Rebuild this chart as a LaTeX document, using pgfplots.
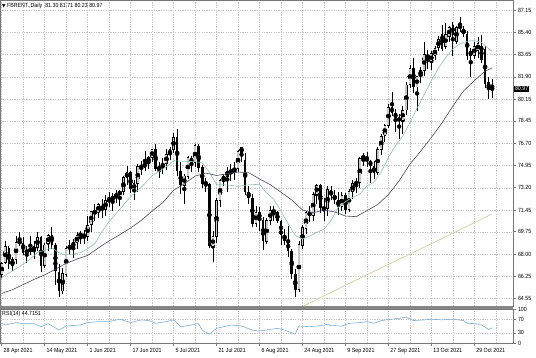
\documentclass[border=0pt]{standalone}
\usepackage{pgfplots}
\pgfplotsset{compat=1.18}
\usepackage{pgfplotstable}
\usepackage{fontspec}
\setmainfont{Liberation Sans}[FakeStretch=0.88]
\newfontfamily\symfont{DejaVu Sans}
\definecolor{fastma}{RGB}{140,192,180}
\definecolor{slowma}{RGB}{70,70,92}
\definecolor{longma}{RGB}{208,198,150}
\definecolor{rsic}{RGB}{125,172,215}
\definecolor{bullc}{RGB}{200,200,200}
\definecolor{gridc}{RGB}{195,195,195}
\definecolor{axc}{RGB}{120,120,120}

\pgfplotstableread{
i O H L C
0 66.40 67.40 66.10 67.27
1 67.30 69.00 67.20 68.56
3 67.10 67.80 66.70 67.56
4 67.60 69.40 67.20 68.88
5 68.90 69.70 68.60 68.96
7 68.10 68.60 67.30 68.28
8 68.30 69.40 67.90 68.32
9 68.30 69.00 67.60 68.55
10 68.50 69.70 68.20 69.32
12 67.10 68.90 66.90 68.71
13 68.80 69.60 68.20 69.46
17 65.10 66.90 64.90 66.44
18 66.40 68.60 66.20 68.46
19 68.40 69.10 67.90 68.65
20 68.60 69.20 67.70 68.87
21 68.90 69.70 68.40 69.46
22 69.40 69.80 68.80 69.63
24 69.40 71.00 69.00 70.25
25 70.30 71.40 69.70 71.35
26 71.30 71.90 70.60 71.31
27 71.30 72.00 70.80 71.89
29 71.50 72.60 71.00 72.22
30 72.20 72.90 71.70 72.22
31 72.20 72.80 71.40 72.52
32 72.50 73.00 72.00 72.69
33 72.70 73.00 71.80 72.86
34 72.90 74.10 72.60 73.99
35 74.00 74.90 73.40 74.39
37 73.10 73.80 72.20 73.51
38 73.50 75.10 72.90 74.90
40 74.80 76.10 74.50 75.19
41 75.20 75.70 74.70 75.56
42 75.60 76.20 75.20 76.18
44 74.70 75.20 74.00 74.76
45 74.80 75.50 74.30 75.13
46 75.10 76.20 74.60 75.84
47 75.80 76.40 75.40 76.17
48 76.20 77.50 75.90 77.16
51 73.40 74.30 71.90 74.12
52 74.10 75.70 73.90 75.55
54 75.20 76.60 74.80 76.49
57 73.50 74.00 72.90 73.59
59 68.60 69.80 67.40 69.35
60 69.40 72.40 68.90 72.23
61 72.20 73.90 71.70 73.79
62 73.80 74.30 73.30 74.10
63 74.10 74.80 72.90 74.50
65 74.50 75.20 73.80 74.74
66 74.70 76.20 74.40 76.05
67 76.00 76.40 75.20 76.33
71 70.40 71.80 70.10 71.29
74 69.00 70.80 68.80 70.63
75 70.60 71.80 70.30 71.44
83 65.20 69.00 65.00 68.75
84 68.70 70.30 68.40 70.05
85 70.00 71.40 69.60 71.25
87 71.00 72.90 70.60 72.70
88 72.70 73.50 71.90 73.41
91 71.60 73.30 71.00 73.03
95 71.70 72.90 71.40 72.60
97 71.50 73.10 71.30 72.92
98 72.90 73.80 72.30 73.51
99 73.50 74.00 72.80 73.60
100 73.60 75.60 73.20 75.46
101 75.50 75.90 74.90 75.67
105 74.40 76.40 74.20 76.19
106 76.20 77.40 75.80 77.25
107 77.30 78.20 76.80 78.09
108 78.10 79.80 77.90 79.53
112 78.50 79.60 77.40 79.28
113 79.30 81.50 78.90 81.26
114 81.30 82.80 81.00 82.56
116 81.10 82.00 79.20 81.95
117 82.00 82.70 81.40 82.39
118 82.40 84.60 82.00 83.65
120 83.10 83.90 82.40 83.70
121 83.60 84.30 83.20 84.10
122 84.20 85.10 83.90 84.80
124 84.30 86.10 84.10 85.20
125 85.05 85.90 84.60 85.80
127 84.70 85.90 84.50 85.80
128 85.70 86.60 85.40 85.97
129 85.30 85.90 85.00 85.60
131 83.60 84.20 81.90 83.90
132 83.60 84.60 83.30 84.30
133 84.00 85.00 83.40 84.50
}\bull

\pgfplotstableread{
i O H L C
2 68.50 68.60 66.80 67.25
6 68.90 69.30 67.90 68.09
11 69.30 69.40 66.60 67.05
14 69.50 70.10 68.40 68.71
15 68.70 68.90 65.60 66.66
16 66.60 67.20 64.60 65.11
23 69.60 69.90 68.80 69.30
28 71.80 72.30 70.80 71.49
36 74.40 74.50 72.80 73.08
39 74.90 75.30 74.20 74.81
43 76.20 76.60 74.50 74.68
49 77.20 77.80 74.10 74.53
50 74.50 75.20 72.70 73.43
53 75.50 75.70 74.40 75.16
55 76.50 76.60 74.40 74.76
56 74.80 75.00 73.20 73.47
58 73.50 73.60 68.50 68.62
64 74.50 75.10 73.70 74.48
68 75.40 75.90 72.60 72.89
69 72.90 73.30 71.90 72.41
70 72.40 72.70 70.10 70.38
72 71.30 71.70 69.80 70.70
73 70.70 70.90 68.30 69.04
76 71.40 71.80 70.60 71.31
77 71.30 71.40 70.40 70.59
78 70.60 70.70 68.70 69.51
79 69.50 70.00 68.70 69.03
80 69.00 70.20 67.80 68.23
81 68.20 68.40 66.00 66.45
82 66.40 66.80 64.60 65.18
86 71.20 71.80 70.50 71.07
89 73.40 73.50 71.20 71.63
90 71.60 72.40 70.60 71.59
92 73.00 73.30 72.20 72.61
93 72.60 73.00 71.90 72.22
94 72.20 72.90 71.10 71.69
96 72.60 72.80 71.10 71.45
102 75.70 76.00 74.80 75.34
103 75.30 75.40 73.60 74.92
104 74.90 75.30 73.90 74.36
109 79.50 80.70 78.80 79.09
110 79.10 79.40 77.60 78.64
111 78.60 79.00 77.00 78.52
115 82.60 83.40 80.60 81.08
119 83.60 84.00 82.50 83.42
123 85.30 86.00 83.90 84.10
126 86.00 86.20 83.50 85.20
130 85.30 85.50 83.20 83.50
134 84.30 85.20 83.00 83.20
135 84.10 84.30 81.00 81.30
136 81.50 81.90 80.20 80.90
137 81.30 81.71 80.23 80.97
}\bear

\pgfplotsset{
  wick/.style={only marks, mark=none, forget plot,
    error bars/.cd, y dir=both, y explicit, error mark=none,
    error bar style={draw=black, line width=0.7pt}},
  body/.style 2 args={only marks, mark=none, forget plot,
    error bars/.cd, y dir=both, y explicit, error mark=none,
    error bar style={draw=#1, line width=#2}},
}
\tikzset{tl/.style={font=\fontsize{6}{6}\selectfont}}

\begin{document}
\begin{tikzpicture}
\path[use as bounding box] (0,0) rectangle (536pt,357pt);
\begin{axis}[
  at={(0pt,51pt)}, anchor=south west, scale only axis,
  width=513pt, height=306pt,
  xmin=-0.47, xmax=142.8, ymin=63.92, ymax=87.93,
  axis line style={axc, line width=0.7pt},
  xtick={0,6,...,138}, xticklabels={}, xtick style={draw=none},
  ytick={64.55,66.25,68.00,69.75,71.45,73.20,74.95,76.70,78.45,80.15,81.90,83.65,85.40,87.15},
  ytick pos=right, yticklabel pos=right, tick align=outside,
  major tick length=2.5pt, ytick style={axc, line width=0.5pt},
  yticklabel style={tl, xshift=-1pt, /pgf/number format/.cd, fixed, fixed zerofill, precision=2, assume math mode=true},
  grid=major, major grid style={gridc, line width=0.4pt, dash pattern=on 1.2pt off 1.2pt},
  clip mode=individual,
]
\addplot[wick] table[x=i, y expr={(\thisrow{H}+\thisrow{L})/2}, y error expr={(\thisrow{H}-\thisrow{L})/2}] \bull;
\addplot[wick] table[x=i, y expr={(\thisrow{H}+\thisrow{L})/2}, y error expr={(\thisrow{H}-\thisrow{L})/2}] \bear;
\addplot[body={black}{2.6pt}] table[x=i, y expr={(\thisrow{O}+\thisrow{C})/2}, y error expr={abs(\thisrow{C}-\thisrow{O})/2+0.035}] \bull;
\addplot[body={bullc}{1.8pt}] table[x=i, y expr={(\thisrow{O}+\thisrow{C})/2}, y error expr={max(abs(\thisrow{C}-\thisrow{O})/2-0.035,0)}] \bull;
\addplot[body={black}{2.6pt}] table[x=i, y expr={(\thisrow{O}+\thisrow{C})/2}, y error expr={max(abs(\thisrow{C}-\thisrow{O})/2,0.05)}] \bear;

\addplot[fastma, line width=0.6pt] coordinates {
(0,66.15)(2,66.5)(4,66.84)(6,67.2)(8,67.61)(10,68.12)(12,68.29)(14,68.49)(16,68.10)(18,67.92)
(20,68.00)(22,68.10)(24,68.42)(26,68.79)(28,69.76)(30,70.55)(32,71.19)(34,71.84)(36,72.50)(38,72.98)
(40,73.53)(42,74.14)(44,74.49)(46,74.84)(48,75.32)(50,75.29)(52,75.26)(54,75.25)(56,75.15)(58,74.42)
(60,73.44)(62,73.44)(64,73.38)(66,73.31)(68,73.39)(70,73.44)(72,73.47)(74,72.79)(76,72.27)(78,71.38)
(80,70.38)(82,69.45)(84,69.18)(86,69.41)(88,69.69)(90,69.95)(92,70.64)(94,71.67)(96,72.10)(98,72.45)
(100,72.69)(102,73.34)(104,73.65)(106,74.44)(108,75.57)(110,76.51)(112,77.24)(114,78.31)(116,79.45)(118,80.50)
(120,81.6)(122,82.6)(124,83.4)(126,84.1)(128,84.5)(130,84.7)(132,84.75)(134,84.6)(136,84.1)(137,83.9)};

\addplot[slowma, line width=0.6pt] coordinates {
(0,64.9)(3,65.2)(6,65.6)(9,66.0)(12,66.36)(15,66.8)(18,67.27)(21,67.6)(24,67.89)(27,68.48)
(30,69.03)(33,69.52)(36,70.04)(39,70.64)(42,71.37)(45,72.03)(48,73.00)(51,73.51)(54,74.11)(57,74.35)
(60,74.16)(63,74.30)(66,74.43)(69,74.38)(72,73.89)(75,73.44)(78,72.85)(81,72.24)(84,71.46)(87,71.24)
(90,71.45)(93,71.30)(96,70.98)(99,70.93)(102,71.40)(105,71.88)(108,72.66)(111,73.74)(114,75.05)(117,76.06)
(120,77.15)(123,78.3)(126,79.6)(129,80.8)(132,81.6)(135,82.35)(137,82.6)};

\addplot[longma, line width=0.6pt] coordinates {(82,63.6)(100,66.1)(120,68.8)(137,71.15)};

\node[anchor=north west, tl, inner sep=0pt] at (rel axis cs:0,1) [xshift=2pt, yshift=-3pt]
  {{\symfont\fontsize{4.5}{5}\selectfont ▼}\ FBRENT.,Daily\ \ 81.30\ 81.71\ 80.23\ 80.97};
\node[anchor=west, fill=black, text=white, tl, inner sep=0.8pt] at (axis cs:142.8,80.97) [xshift=1pt] {80.97};
\end{axis}

\begin{axis}[
  at={(0pt,14pt)}, anchor=south west, scale only axis,
  width=513pt, height=34pt,
  xmin=-0.47, xmax=142.8, ymin=0, ymax=100,
  axis line style={axc, line width=0.7pt},
  xtick={0,12,...,132},
  xticklabels={28 Apr 2021,14 May 2021,1 Jun 2021,17 Jun 2021,5 Jul 2021,21 Jul 2021,6 Aug 2021,24 Aug 2021,9 Sep 2021,27 Sep 2021,13 Oct 2021,29 Oct 2021},
  minor xtick={6,18,...,138},
  xtick pos=bottom, ytick pos=right, tick align=outside,
  major tick length=2.5pt, minor tick length=0pt,
  xtick style={axc, line width=0.5pt}, ytick style={axc, line width=0.5pt},
  xticklabel style={tl, anchor=north west, xshift=-1.5pt, yshift=1pt},
  ytick={0,30,70,100}, yticklabel pos=right,
  yticklabel style={tl, xshift=-1pt, /pgf/number format/assume math mode=true},
  grid=both, major grid style={gridc, line width=0.4pt, dash pattern=on 1.2pt off 1.2pt},
  minor grid style={gridc, line width=0.4pt, dash pattern=on 1.2pt off 1.2pt},
  clip mode=individual,
]
\addplot[rsic, line width=0.6pt] coordinates {
(0,58)(1,53)(4,60)(6,57)(9,57)(11,48)(13,57)(16,38)(18,50)(22,53)(24,60)(27,63)(30,63)(33,70)(36,60)
(39,68)(41,66)(43,58)(46,63)(48,68)(50,48)(53,53)(55,57)(56,38)(58,26)(60,43)(64,53)(67,50)(70,38)(72,35)
(75,40)(77,43)(79,38)(82,26)(83,50)(86,48)(89,51)(91,55)(92,51)(95,50)(97,58)(100,60)(102,63)(104,58)
(106,66)(109,70)(113,76)(115,66)(118,68)(120,70)(123,68)(126,70)(129,66)(130,58)(132,57)(134,53)(136,40)(137,44.7)};
\node[anchor=north west, tl, inner sep=0pt] at (rel axis cs:0,1) [xshift=2pt, yshift=-2pt] {RSI(14) 44.7151};
\end{axis}
\draw[axc!90, line width=2.6pt] (0pt,49.5pt) -- (513pt,49.5pt);
\end{tikzpicture}
\end{document}
